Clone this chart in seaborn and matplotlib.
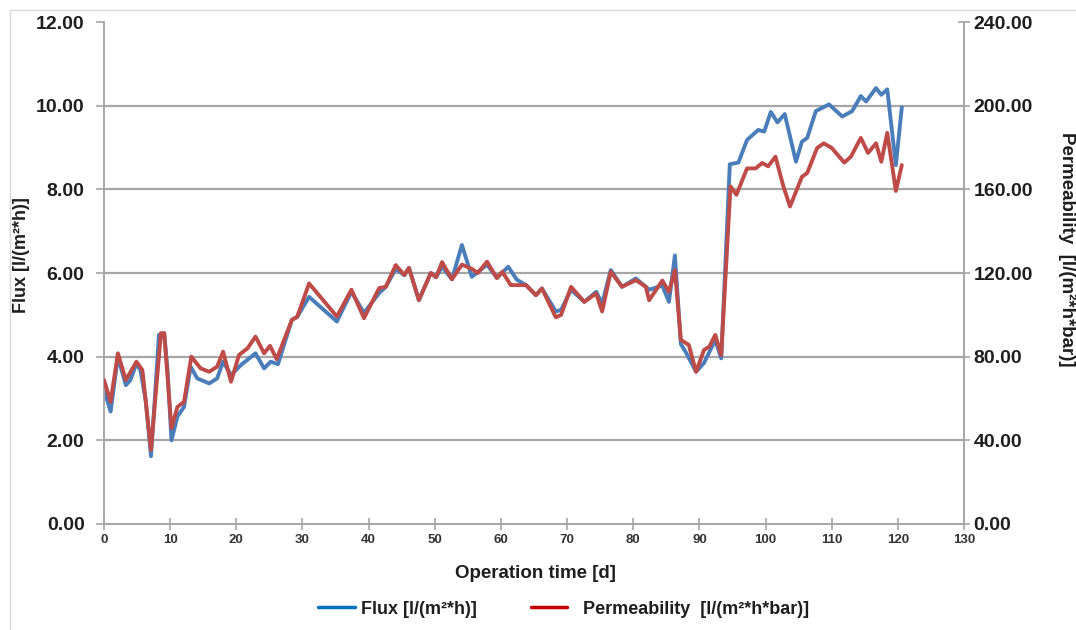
import matplotlib
matplotlib.use("Agg")
import matplotlib.pyplot as plt
import seaborn as sns
import pandas as pd
from matplotlib.lines import Line2D
from matplotlib.patches import Rectangle

# ---------------- data ----------------
days_flux = [0, 1.0, 2.1, 3.3, 4.0, 4.9, 5.5, 6.3, 7.1, 7.8, 8.3, 9.1, 9.6, 10.2, 11.1,
             12.1, 13.1, 14.1, 15.9, 17.1, 18.0, 19.2, 20.7, 22.9, 24.2, 25.2, 26.3,
             28.4, 29.2, 31.0, 35.2, 37.4, 39.3, 41.6, 42.6, 44.1, 45.4, 46.1, 47.6,
             49.4, 50.2, 51.1, 52.6, 54.1, 55.6, 57.9, 59.4, 61.1, 62.4, 63.8, 65.3,
             66.2, 68.3, 69.1, 70.6, 72.6, 74.4, 75.3, 76.6, 78.3, 80.4, 81.9, 82.4,
             84.4, 85.4, 86.3, 87.2, 87.9, 89.5, 90.7, 92.4, 93.3, 94.6, 95.9, 97.2,
             98.9, 99.8, 100.8, 101.8, 102.9, 104.6, 105.5, 106.3, 107.6, 109.6, 111.6,
             113.1, 114.4, 115.2, 116.7, 117.5, 118.4, 119.7, 120.6]
flux = [3.20, 2.69, 4.00, 3.32, 3.44, 3.84, 3.68, 2.96, 1.62, 3.28, 4.52, 4.56, 3.68, 2.00, 2.57,
        2.80, 3.76, 3.48, 3.36, 3.48, 3.88, 3.56, 3.80, 4.08, 3.72, 3.88, 3.82,
        4.88, 4.95, 5.43, 4.84, 5.55, 5.05, 5.52, 5.67, 6.10, 5.95, 6.12, 5.35,
        6.00, 5.90, 6.15, 5.85, 6.67, 5.91, 6.20, 5.88, 6.15, 5.84, 5.71, 5.47,
        5.63, 5.08, 5.12, 5.60, 5.31, 5.55, 5.27, 6.07, 5.67, 5.87, 5.67, 5.60,
        5.70, 5.31, 6.42, 4.30, 4.12, 3.64, 3.85, 4.40, 3.96, 8.60, 8.64, 9.18,
        9.42, 9.38, 9.85, 9.60, 9.80, 8.66, 9.14, 9.23, 9.87, 10.03, 9.74,
        9.87, 10.23, 10.10, 10.42, 10.26, 10.39, 8.58, 9.96]

days_perm = [0, 1.0, 2.1, 3.3, 4.9, 5.8, 7.1, 8.6, 9.1, 10.2, 11.1, 12.1, 13.2, 14.6,
             15.9, 17.1, 18.0, 19.2, 20.4, 21.7, 22.9, 24.2, 25.1, 26.1, 28.4, 29.2,
             31.0, 35.2, 37.4, 39.3, 41.6, 42.6, 44.1, 45.4, 46.1, 47.6, 49.4, 50.2,
             51.1, 52.6, 54.1, 55.6, 56.5, 57.9, 59.4, 60.2, 61.5, 62.4, 63.8, 65.3,
             66.2, 68.3, 69.1, 70.6, 72.6, 74.4, 75.3, 76.6, 78.3, 80.4, 81.9, 82.4,
             84.4, 85.4, 86.3, 87.2, 88.4, 89.5, 90.7, 91.5, 92.4, 93.3, 94.7, 95.6,
             97.2, 98.5, 99.5, 100.4, 101.5, 102.7, 103.7, 105.5, 106.3, 107.8, 108.8,
             110.0, 111.9, 112.9, 114.4, 115.5, 116.7, 117.5, 118.4, 119.7, 120.6]
perm = [68.8, 58.4, 81.6, 68.8, 77.6, 73.6, 35.4, 91.2, 91.2, 45.8, 56.0, 58.4, 80.0, 74.4,
        72.8, 75.2, 82.4, 68.0, 80.8, 84.0, 89.6, 81.6, 85.2, 78.8, 97.6, 99.0,
        115.0, 99.2, 112.0, 98.4, 112.8, 113.4, 123.8, 119.0, 122.4, 107.0, 120.0, 118.0,
        125.2, 117.0, 124.0, 122.0, 120.0, 125.4, 117.6, 120.6, 114.2, 114.2, 114.2, 109.4,
        112.6, 98.8, 100.0, 113.4, 106.2, 110.2, 101.6, 120.6, 113.4, 116.6, 113.4, 107.0,
        116.4, 111.0, 121.4, 88.0, 85.6, 72.8, 83.2, 84.8, 90.4, 80.8, 161.4, 157.4,
        170.0, 170.0, 172.6, 171.0, 175.6, 161.4, 151.8, 166.0, 167.8, 179.8, 182.0,
        179.8, 172.8, 175.6, 184.6, 177.4, 182.0, 173.2, 187.0, 159.2, 171.6]

x_ticks = list(range(0, 131, 10))
flux_ticks = [0, 2, 4, 6, 8, 10, 12]
perm_ticks = [0, 40, 80, 120, 160, 200, 240]
flux_label = "Flux [l/(m²*h)]"
perm_label = "Permeability  [l/(m²*h*bar)]"
x_label = "Operation time [d]"

# ---------------- style ----------------
sns.set_theme(style="white")
plt.rcParams['font.family'] = ['Liberation Sans', 'DejaVu Sans']

BLUE = "#4A7EBB"
RED = "#BE4B48"
GRID = "#A6A6A6"
TXT = "#1E1E1E"

fig = plt.figure(figsize=(10.76, 6.3), dpi=100)
ax = fig.add_axes([104 / 1076, 1 - 524 / 630, (964 - 104) / 1076, (524 - 22) / 630])
ax2 = ax.twinx()

df_f = pd.DataFrame({"day": days_flux, "flux": flux})
df_p = pd.DataFrame({"day": days_perm, "perm": perm})
sns.lineplot(data=df_f, x="day", y="flux", ax=ax, color=BLUE, lw=2.8, sort=False,
             legend=False)
sns.lineplot(data=df_p, x="day", y="perm", ax=ax2, color=RED, lw=2.8, sort=False,
             legend=False)

ax.set_xlim(0, 130)
ax.set_ylim(0, 12)
ax2.set_ylim(0, 240)
ax.set_xticks(x_ticks)
ax.set_yticks(flux_ticks)
ax2.set_yticks(perm_ticks)
ax.set_xticklabels([str(v) for v in x_ticks])
ax.set_yticklabels([f"{v:.2f}" for v in flux_ticks])
ax2.set_yticklabels([f"{v:.2f}" for v in perm_ticks])
ax.set_xlabel("")
ax.set_ylabel("")
ax2.set_ylabel("")

# gridlines (horizontal, not at the top)
for v in flux_ticks[1:-1]:
    ax.axhline(v, color=GRID, lw=1.6, zorder=0.5)
ax.set_axisbelow(True)

for a in (ax, ax2):
    for s in a.spines.values():
        s.set_visible(False)
ax.spines['left'].set_visible(True)
ax.spines['bottom'].set_visible(True)
ax2.spines['right'].set_visible(True)
for s in (ax.spines['left'], ax.spines['bottom'], ax2.spines['right']):
    s.set_color(GRID)
    s.set_linewidth(1.4)

ax.tick_params(axis='y', left=True, direction='out', length=6, width=1.2, color=GRID,
               labelsize=14, labelcolor=TXT, pad=8)
ax.tick_params(axis='x', bottom=True, direction='inout', length=8, width=1.2, color=GRID,
               labelsize=9.5, labelcolor="#333333", pad=3)
ax2.tick_params(axis='y', right=True, direction='inout', length=8, width=1.2, color=GRID,
                labelsize=14, labelcolor=TXT, pad=3)
for lab in ax.get_yticklabels() + ax2.get_yticklabels() + ax.get_xticklabels():
    lab.set_fontweight('bold')

# axis titles
fig.text(22 / 1076, 1 - 255 / 630, flux_label, rotation=90, ha='center', va='center',
         fontsize=13, fontweight='bold', color=TXT)
fig.text(1067 / 1076, 1 - 249 / 630, perm_label, rotation=270, ha='center', va='center',
         fontsize=13.5, fontweight='bold', color=TXT)
fig.text(535 / 1076, 1 - 574 / 630, x_label, ha='center', va='center',
         fontsize=13.5, fontweight='bold', color=TXT)

# legend
handles = [Line2D([], [], color="#0070C0", lw=2.5),
           Line2D([], [], color="#C00000", lw=2.5)]
leg = fig.legend(handles, [flux_label, "  " + perm_label], loc='center',
                 bbox_to_anchor=(564 / 1076, 1 - 609 / 630), ncol=2, frameon=False,
                 fontsize=13, handlelength=2.0, handletextpad=0.35, columnspacing=3.0)
for t in leg.get_texts():
    t.set_fontweight('bold')
    t.set_color(TXT)

# outer chart frame
fig.patches.append(Rectangle((10 / 1076, -0.1), 1.2, 1 - 10 / 630 + 0.1,
                             transform=fig.transFigure, fill=False,
                             edgecolor="#D9D9D9", lw=1.0))

fig.savefig("out.png", dpi=100)
